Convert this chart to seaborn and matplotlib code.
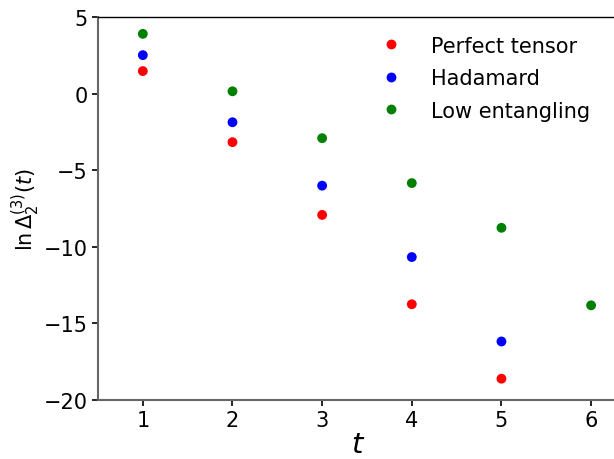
import matplotlib
matplotlib.use("Agg")
import matplotlib.pyplot as plt
import seaborn as sns
import pandas as pd

sns.set_style("white")
plt.rcParams["font.family"] = ["DejaVu Sans"]
plt.rcParams["mathtext.fontset"] = "dejavusans"
plt.rcParams.update({
    "text.color": "black",
    "axes.labelcolor": "black",
    "xtick.color": "black",
    "ytick.color": "black",
})

t_perfect = [1, 2, 3, 4, 5]
perfect_tensor = [1.47, -3.17, -7.92, -13.75, -18.61]

t_hadamard = [1, 2, 3, 4, 5]
hadamard = [2.51, -1.87, -6.01, -10.67, -16.18]

t_low = [1, 2, 3, 4, 5, 6]
low_entangling = [3.90, 0.15, -2.91, -5.84, -8.76, -13.82]

series_names = ["Perfect tensor", "Hadamard", "Low entangling"]
series_colors = ["red", "blue", "green"]

frames = []
for name, ts, vals in zip(series_names,
                          [t_perfect, t_hadamard, t_low],
                          [perfect_tensor, hadamard, low_entangling]):
    frames.append(pd.DataFrame({"t": ts, "value": vals, "gate": name}))
df = pd.concat(frames, ignore_index=True)

fig = plt.figure(figsize=(6.14, 4.60), dpi=100)
ax = fig.add_axes([98 / 614, 1 - 401 / 460, 520 / 614, 383 / 460])

sns.scatterplot(data=df, x="t", y="value", hue="gate",
                hue_order=series_names,
                palette=dict(zip(series_names, series_colors)),
                s=50, linewidth=0, ax=ax)

ax.set_xlim(0.5, 6.3)
ax.set_ylim(-20, 5)
ax.set_xticks([1, 2, 3, 4, 5, 6])
ax.set_yticks([-20, -15, -10, -5, 0, 5])
ax.tick_params(axis="both", labelsize=15, length=4, width=1.2,
               color="black", labelcolor="black", bottom=True, left=True)

for side in ("left", "bottom"):
    ax.spines[side].set_color("#666666")
    ax.spines[side].set_linewidth(1.5)
ax.spines["top"].set_color("black")
ax.spines["top"].set_linewidth(1.0)
ax.spines["right"].set_visible(False)

ax.set_xlabel(r"$t$", fontsize=21, labelpad=0, color="black")
ax.set_ylabel(r"$\ln\Delta_2^{(3)}(t)$", fontsize=15, labelpad=1,
              color="black")

leg = ax.legend(loc="upper right", bbox_to_anchor=(0.982, 1.0),
                frameon=False, fontsize=15, title=None,
                handletextpad=0.9, labelspacing=0.6, markerscale=1.0)
for txt in leg.get_texts():
    txt.set_color("black")

fig.savefig("out.png", dpi=100)
